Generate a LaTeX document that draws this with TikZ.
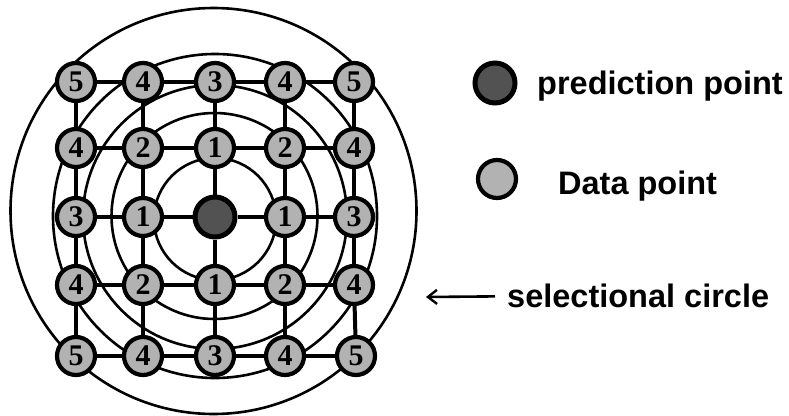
\documentclass[tikz,border=0pt]{standalone}
\usepackage{fontspec}
\setmainfont{Liberation Serif}
\setsansfont{Liberation Sans}
\usetikzlibrary{arrows.meta,backgrounds}
\begin{document}
\begin{tikzpicture}[x=1pt,y=-1pt,
  ring/.style={draw=black, line width=2.6pt},
  link/.style={draw=black, line width=4pt},
  datapt/.style={circle, draw=black, line width=4.2pt, fill=black!30, minimum size=38pt, inner sep=0pt, font=\fontsize{30}{30}\selectfont\bfseries},
  predpt/.style={circle, draw=black, line width=5pt, fill=black!68, minimum size=40pt, inner sep=0pt},
  legend/.style={anchor=base west, font=\sffamily\bfseries\fontsize{32.5}{34}\selectfont, inner sep=0pt},
  pointer/.style={draw=black, line width=2.6pt, -{Straight Barb[length=9pt,width=14pt,line width=2.4pt]}}
]
\useasboundingbox (0,0) rectangle (789,415);
% grid of points
\node[datapt] (n11) at (76,82)  {5};
\node[datapt] (n12) at (143,82) {4};
\node[datapt] (n13) at (215,82) {3};
\node[datapt] (n14) at (285,82) {4};
\node[datapt] (n15) at (354,82) {5};
\node[datapt] (n21) at (76,148)  {4};
\node[datapt] (n22) at (143,148) {2};
\node[datapt] (n23) at (215,148) {1};
\node[datapt] (n24) at (285,148) {2};
\node[datapt] (n25) at (354,148) {4};
\node[datapt] (n31) at (76,217)  {3};
\node[datapt] (n32) at (143,217) {1};
\node[predpt] (n33) at (215,217) {};
\node[datapt] (n34) at (285,217) {1};
\node[datapt] (n35) at (354,217) {3};
\node[datapt] (n41) at (76,285)  {4};
\node[datapt] (n42) at (143,285) {2};
\node[datapt] (n43) at (215,285) {1};
\node[datapt] (n44) at (285,285) {2};
\node[datapt] (n45) at (354,285) {4};
\node[datapt] (n51) at (76,356)  {5};
\node[datapt] (n52) at (143,356) {4};
\node[datapt] (n53) at (215,356) {3};
\node[datapt] (n54) at (285,356) {4};
\node[datapt] (n55) at (356,356) {5};
\begin{pgfonlayer}{background}
  % selectional circles
  \draw[ring] (215,219) circle[radius=61];
  \draw[ring] (214.5,216) circle[radius=103];
  \draw[ring] (215,217) circle[radius=132];
  \draw[ring] (215,216) circle[radius=162];
  \draw[ring] (213.5,211) circle[radius=203];
  % links
  \foreach \r in {1,...,5}{
    \foreach \c in {1,...,4}{
      \pgfmathtruncatemacro{\d}{\c+1}
      \draw[link] (n\r\c) -- (n\r\d);
      \draw[link] (n\c\r) -- (n\d\r);
    }
  }
\end{pgfonlayer}
% legend
\node[predpt] (lp) at (495,83) {};
\node[legend] (lpt) at (537,94) {prediction point};
\node[datapt] (ld) at (497,179) {};
\node[legend] (ldt) at (558,194) {Data point};
\node[legend] (lst) at (507,307) {selectional circle};
\coordinate (tip) at (426,297);
\draw[pointer] ([xshift=-12pt,yshift=-1pt]lst.west) -- (tip);
\end{tikzpicture}
\end{document}
